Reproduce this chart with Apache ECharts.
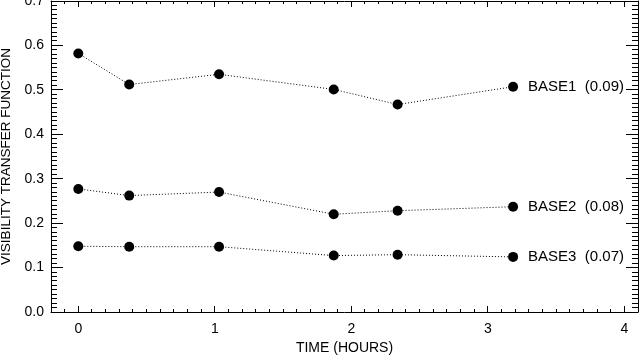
<!DOCTYPE html>
<html>
<head>
<meta charset="utf-8">
<script src="https://cdn.jsdelivr.net/npm/echarts@6/dist/echarts.min.js"></script>
<style>
  html, body { margin: 0; padding: 0; background: #fff; }
  #chart { width: 639px; height: 355px; }
</style>
</head>
<body>
<div id="chart"></div>
<script>
// time of each measurement (hours)
const times = [0, 0.373, 1.031, 1.871, 2.339, 3.185];
const base1 = [0.582, 0.512, 0.535, 0.501, 0.467, 0.507];
const base2 = [0.277, 0.262, 0.270, 0.220, 0.228, 0.237];
const base3 = [0.148, 0.147, 0.147, 0.127, 0.129, 0.124];
const seriesNames = ["BASE1  (0.09)", "BASE2  (0.08)", "BASE3  (0.07)"];
const xTicks = [0, 1, 2, 3, 4];

const xMin = -0.2, xMax = 4.1, yMin = 0, yMax = 0.7;

const font = "'Liberation Sans', Arial, sans-serif";
const black = "#000";

const chartDom = document.getElementById("chart");
const myChart = echarts.init(chartDom);

// tick marks all round the box
// side: 0 bottom, 1 top, 2 left, 3 right
const tickRows = [];
for (let k = -1; k <= 40; k++) {
    const v = +(k / 10).toFixed(1);
    const len = xTicks.includes(v) ? 6 : 3;
    tickRows.push([0, v, len], [1, v, len]);
}
for (let k = 1; k <= 69; k++) {
    const v = +(k / 100).toFixed(2);
    const len = k % 10 === 0 ? 12 : 6;
    tickRows.push([2, v, len], [3, v, len]);
}

function crisp(p) {
    return Math.round(p - 0.5) + 0.5;
}

function renderTick(params, api) {
    const side = api.value(0);
    const v = api.value(1);
    const len = api.value(2);
    let shape;
    if (side < 2) {
        const p = api.coord([v, side === 0 ? yMin : yMax]);
        const px = crisp(p[0]);
        const y0 = p[1];
        const y1 = side === 0 ? y0 - len : y0 + len;
        shape = { x1: px, y1: y0, x2: px, y2: y1 };
    } else {
        const p = api.coord([side === 2 ? xMin : xMax, v]);
        const py = crisp(p[1]);
        const x0 = p[0];
        const x1 = side === 2 ? x0 + len : x0 - len;
        shape = { x1: x0, y1: py, x2: x1, y2: py };
    }
    return { type: "line", shape: shape, style: { stroke: black, lineWidth: 1 } };
}

function lineSeries(name, vals) {
    return {
        name: name,
        type: "line",
        xAxisIndex: 0,
        yAxisIndex: 0,
        data: times.map((t, i) => [t, vals[i]]),
        symbol: "circle",
        symbolSize: 10,
        itemStyle: { color: black },
        lineStyle: { color: black, width: 1, type: [1, 2] },
        z: 5,
        label: {
            show: true,
            position: "right",
            distance: 10,
            color: black,
            fontFamily: font,
            fontSize: 15,
            formatter: (p) => (p.dataIndex === times.length - 1 ? name : ""),
        },
    };
}

const plainLine = { show: true, onZero: false, lineStyle: { color: black, width: 1 } };

const option = {
    backgroundColor: "#fff",
    animation: false,
    grid: { left: 51, right: 1, top: 1, bottom: 43, outerBoundsMode: "none" },
    xAxis: [
        {
            type: "value",
            position: "bottom",
            min: xMin,
            max: xMax,
            axisLine: plainLine,
            splitLine: { show: false },
            axisTick: { show: false },
            axisLabel: {
                customValues: xTicks,
                color: black,
                fontFamily: font,
                fontSize: 14,
                margin: 10,
            },
            name: "TIME (HOURS)",
            nameLocation: "middle",
            nameGap: 28,
            nameTextStyle: { color: black, fontFamily: font, fontSize: 14 },
        },
        {
            type: "value",
            position: "top",
            min: xMin,
            max: xMax,
            axisLine: plainLine,
            splitLine: { show: false },
            axisTick: { show: false },
            axisLabel: { show: false },
        },
    ],
    yAxis: [
        {
            type: "value",
            position: "left",
            min: yMin,
            max: yMax,
            interval: 0.1,
            axisLine: plainLine,
            splitLine: { show: false },
            axisTick: { show: false },
            axisLabel: {
                color: black,
                fontFamily: font,
                fontSize: 14,
                margin: 7,
                formatter: (v) => v.toFixed(1),
            },
            name: "VISIBILITY TRANSFER FUNCTION",
            nameLocation: "middle",
            nameGap: 30,
            nameTextStyle: { color: black, fontFamily: font, fontSize: 13.5 },
        },
        {
            type: "value",
            position: "right",
            min: yMin,
            max: yMax,
            interval: 0.1,
            axisLine: plainLine,
            splitLine: { show: false },
            axisTick: { show: false },
            axisLabel: { show: false },
        },
    ],
    series: [
        lineSeries(seriesNames[0], base1),
        lineSeries(seriesNames[1], base2),
        lineSeries(seriesNames[2], base3),
        {
            type: "custom",
            xAxisIndex: 0,
            yAxisIndex: 0,
            silent: true,
            clip: false,
            z: 3,
            encode: { x: 1, y: 1 },
            renderItem: renderTick,
            data: tickRows,
        },
    ],
};

option && myChart.setOption(option);
</script>
</body>
</html>
